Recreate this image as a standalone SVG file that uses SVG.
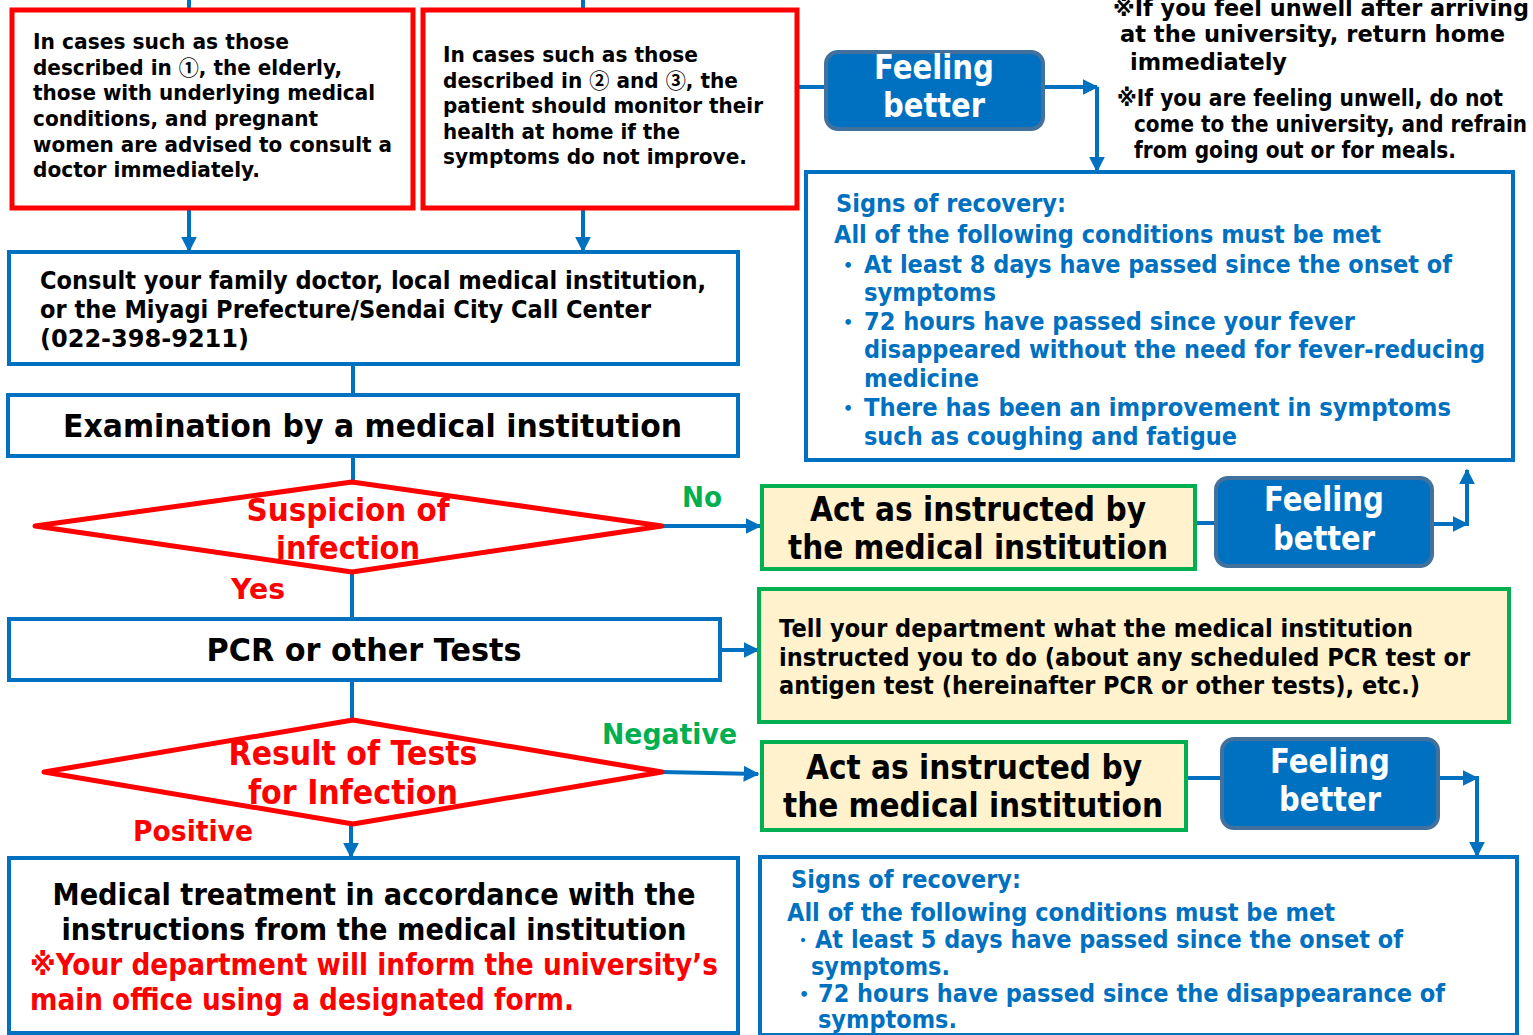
<svg xmlns="http://www.w3.org/2000/svg" width="1533" height="1035" viewBox="0 0 1533 1035">
<defs>
<marker id="ah" viewBox="0 0 10 10" refX="9" refY="5" markerWidth="4" markerHeight="4" orient="auto" markerUnits="strokeWidth">
<path d="M0,0 L10,5 L0,10 z" fill="#0070C0"/>
</marker>
<style>
text{font-family:"DejaVu Sans","Noto Sans CJK JP",sans-serif;font-weight:bold;}
.cj{font-family:"Noto Sans CJK JP",sans-serif;}
.k{fill:#000}
.r{fill:#FF0000}
.g{fill:#00B050}
.b{fill:#0070C0}
.w{fill:#FFFFFF}
.mid{text-anchor:middle}
.redbox{fill:#FFFFFF;stroke:#FF0000;stroke-width:5}
.bluebox{fill:#FFFFFF;stroke:#0070C0;stroke-width:4}
.greenbox{fill:#FFF2CC;stroke:#00B050;stroke-width:4}
.feel{fill:#0070C0;stroke:#41719C;stroke-width:4}
.dia{fill:#FFFFFF;stroke:#FF0000;stroke-width:5;stroke-linejoin:round}
.c{fill:none;stroke:#0070C0;stroke-width:4}
.ca{fill:none;stroke:#0070C0;stroke-width:4;marker-end:url(#ah)}
.f16{font-size:16px}
.f21{font-size:21px}
.f23{font-size:23px}
.f24{font-size:24px}
.f28{font-size:28px}
.f30{font-size:30px}
.f32{font-size:32px}
.f33{font-size:33px}
</style>
</defs>
<rect width="1533" height="1035" fill="#FFFFFF"/>

<g id="connectors">
<line class="c" x1="189" y1="0" x2="189" y2="10"/>
<line class="c" x1="583" y1="0" x2="583" y2="10"/>
<line class="ca" x1="189" y1="208" x2="189" y2="251"/>
<line class="ca" x1="583" y1="208" x2="583" y2="251"/>
<line class="c" x1="797" y1="87" x2="826" y2="87"/>
<line class="ca" x1="1043" y1="87" x2="1097" y2="87"/>
<polyline class="ca" points="1097,87 1097,171"/>
<line class="c" x1="353" y1="364" x2="353" y2="395"/>
<line class="c" x1="353" y1="456" x2="353" y2="484"/>
<line class="ca" x1="662" y1="526" x2="760" y2="526"/>
<line class="c" x1="352" y1="572" x2="352" y2="619"/>
<line class="c" x1="1195" y1="523" x2="1217" y2="523"/>
<line class="ca" x1="1432" y1="524" x2="1467" y2="524"/>
<line class="ca" x1="1467" y1="526" x2="1467" y2="470"/>
<line class="ca" x1="720" y1="650" x2="758" y2="650"/>
<line class="c" x1="352" y1="680" x2="352" y2="721"/>
<line class="ca" x1="662" y1="772" x2="758" y2="774"/>
<line class="ca" x1="351" y1="824" x2="351" y2="857"/>
<line class="c" x1="1186" y1="778" x2="1222" y2="778"/>
<line class="ca" x1="1438" y1="778" x2="1477" y2="778"/>
<line class="ca" x1="1477" y1="776" x2="1477" y2="856"/>
</g>

<g id="box-elderly">
<rect class="redbox" x="12" y="10" width="401" height="198"/>
<text class="k f21" x="33" y="49" textLength="256" lengthAdjust="spacingAndGlyphs">In cases such as those</text>
<text class="k f21" x="33" y="75" textLength="309" lengthAdjust="spacingAndGlyphs">described in <tspan class="cj">①</tspan>, the elderly,</text>
<text class="k f21" x="33" y="100" textLength="342" lengthAdjust="spacingAndGlyphs">those with underlying medical</text>
<text class="k f21" x="33" y="126" textLength="285" lengthAdjust="spacingAndGlyphs">conditions, and pregnant</text>
<text class="k f21" x="33" y="152" textLength="359" lengthAdjust="spacingAndGlyphs">women are advised to consult a</text>
<text class="k f21" x="33" y="177" textLength="227" lengthAdjust="spacingAndGlyphs">doctor immediately.</text>
</g>

<g id="box-monitor">
<rect class="redbox" x="423" y="10" width="374" height="198"/>
<text class="k f21" x="443" y="62" textLength="255" lengthAdjust="spacingAndGlyphs">In cases such as those</text>
<text class="k f21" x="443" y="88" textLength="295" lengthAdjust="spacingAndGlyphs">described in <tspan class="cj">②</tspan> and <tspan class="cj">③</tspan>, the</text>
<text class="k f21" x="443" y="113" textLength="320" lengthAdjust="spacingAndGlyphs">patient should monitor their</text>
<text class="k f21" x="443" y="139" textLength="237" lengthAdjust="spacingAndGlyphs">health at home if the</text>
<text class="k f21" x="443" y="164" textLength="304" lengthAdjust="spacingAndGlyphs">symptoms do not improve.</text>
</g>

<g id="feeling-top">
<rect class="feel" x="826" y="52" width="217" height="77" rx="12"/>
<text class="w f33 mid" x="934" y="79" textLength="120" lengthAdjust="spacingAndGlyphs">Feeling</text>
<text class="w f33 mid" x="934" y="117" textLength="102" lengthAdjust="spacingAndGlyphs">better</text>
</g>

<g id="notes">
<text class="k f23" x="1113" y="16" textLength="416" lengthAdjust="spacingAndGlyphs">※If you feel unwell after arriving</text>
<text class="k f23" x="1120" y="42" textLength="385" lengthAdjust="spacingAndGlyphs">at the university, return home</text>
<text class="k f23" x="1130" y="70" textLength="157" lengthAdjust="spacingAndGlyphs">immediately</text>
<text class="k f23" x="1117" y="106" textLength="386" lengthAdjust="spacingAndGlyphs">※If you are feeling unwell, do not</text>
<text class="k f23" x="1134" y="132" textLength="393" lengthAdjust="spacingAndGlyphs">come to the university, and refrain</text>
<text class="k f23" x="1134" y="158" textLength="322" lengthAdjust="spacingAndGlyphs">from going out or for meals.</text>
</g>

<g id="signs-1">
<rect class="bluebox" x="806" y="172" width="707" height="288"/>
<text class="b f24" x="836" y="212" textLength="230" lengthAdjust="spacingAndGlyphs">Signs of recovery:</text>
<text class="b f24" x="834" y="243" textLength="547" lengthAdjust="spacingAndGlyphs">All of the following conditions must be met</text>
<text class="b f16" x="843" y="271">•</text>
<text class="b f24" x="864" y="273" textLength="588" lengthAdjust="spacingAndGlyphs">At least 8 days have passed since the onset of</text>
<text class="b f24" x="864" y="301" textLength="132" lengthAdjust="spacingAndGlyphs">symptoms</text>
<text class="b f16" x="843" y="328">•</text>
<text class="b f24" x="864" y="330" textLength="491" lengthAdjust="spacingAndGlyphs">72 hours have passed since your fever</text>
<text class="b f24" x="864" y="358" textLength="621" lengthAdjust="spacingAndGlyphs">disappeared without the need for fever-reducing</text>
<text class="b f24" x="864" y="387" textLength="115" lengthAdjust="spacingAndGlyphs">medicine</text>
<text class="b f16" x="843" y="414">•</text>
<text class="b f24" x="864" y="416" textLength="587" lengthAdjust="spacingAndGlyphs">There has been an improvement in symptoms</text>
<text class="b f24" x="864" y="445" textLength="373" lengthAdjust="spacingAndGlyphs">such as coughing and fatigue</text>
</g>

<g id="consult">
<rect class="bluebox" x="9" y="252" width="729" height="112"/>
<text class="k f24" x="40" y="289" textLength="666" lengthAdjust="spacingAndGlyphs">Consult your family doctor, local medical institution,</text>
<text class="k f24" x="40" y="318" textLength="611" lengthAdjust="spacingAndGlyphs">or the Miyagi Prefecture/Sendai City Call Center</text>
<text class="k f24" x="40" y="347" textLength="209" lengthAdjust="spacingAndGlyphs">(022-398-9211)</text>
</g>

<g id="examination">
<rect class="bluebox" x="8" y="395" width="730" height="61"/>
<text class="k f32" x="63" y="437" textLength="619" lengthAdjust="spacingAndGlyphs">Examination by a medical institution</text>
</g>

<g id="suspicion">
<polygon class="dia" points="35,526 352,482 662,526 352,572"/>
<text class="r f32 mid" x="348" y="521" textLength="203" lengthAdjust="spacingAndGlyphs">Suspicion of</text>
<text class="r f32 mid" x="348" y="559" textLength="144" lengthAdjust="spacingAndGlyphs">infection</text>
</g>
<text class="g f28" x="682" y="507" textLength="40" lengthAdjust="spacingAndGlyphs">No</text>
<text class="r f28" x="231" y="599" textLength="54" lengthAdjust="spacingAndGlyphs">Yes</text>

<g id="act-1">
<rect class="greenbox" x="762" y="486" width="433" height="83"/>
<text class="k f33 mid" x="978" y="521" textLength="336" lengthAdjust="spacingAndGlyphs">Act as instructed by</text>
<text class="k f33 mid" x="978" y="559" textLength="380" lengthAdjust="spacingAndGlyphs">the medical institution</text>
</g>

<g id="feeling-mid">
<rect class="feel" x="1216" y="478" width="216" height="88" rx="12"/>
<text class="w f33 mid" x="1324" y="511" textLength="120" lengthAdjust="spacingAndGlyphs">Feeling</text>
<text class="w f33 mid" x="1324" y="550" textLength="102" lengthAdjust="spacingAndGlyphs">better</text>
</g>

<g id="pcr">
<rect class="bluebox" x="9" y="619" width="711" height="61"/>
<text class="k f32 mid" x="364" y="661" textLength="315" lengthAdjust="spacingAndGlyphs">PCR or other Tests</text>
</g>

<g id="tell">
<rect class="greenbox" x="759" y="589" width="750" height="133"/>
<text class="k f24" x="779" y="637" textLength="634" lengthAdjust="spacingAndGlyphs">Tell your department what the medical institution</text>
<text class="k f24" x="779" y="666" textLength="691" lengthAdjust="spacingAndGlyphs">instructed you to do (about any scheduled PCR test or</text>
<text class="k f24" x="779" y="694" textLength="641" lengthAdjust="spacingAndGlyphs">antigen test (hereinafter PCR or other tests), etc.)</text>
</g>

<g id="result">
<polygon class="dia" points="44,772 353,720 662,772 353,824"/>
<text class="r f33 mid" x="353" y="765" textLength="249" lengthAdjust="spacingAndGlyphs">Result of Tests</text>
<text class="r f33 mid" x="353" y="804" textLength="210" lengthAdjust="spacingAndGlyphs">for Infection</text>
</g>
<text class="g f28" x="602" y="744" textLength="135" lengthAdjust="spacingAndGlyphs">Negative</text>
<text class="r f28" x="133" y="841" textLength="120" lengthAdjust="spacingAndGlyphs">Positive</text>

<g id="act-2">
<rect class="greenbox" x="762" y="742" width="424" height="88"/>
<text class="k f33 mid" x="974" y="779" textLength="336" lengthAdjust="spacingAndGlyphs">Act as instructed by</text>
<text class="k f33 mid" x="973" y="817" textLength="380" lengthAdjust="spacingAndGlyphs">the medical institution</text>
</g>

<g id="feeling-bottom">
<rect class="feel" x="1222" y="739" width="216" height="89" rx="12"/>
<text class="w f33 mid" x="1330" y="773" textLength="120" lengthAdjust="spacingAndGlyphs">Feeling</text>
<text class="w f33 mid" x="1330" y="811" textLength="102" lengthAdjust="spacingAndGlyphs">better</text>
</g>

<g id="signs-2">
<rect class="bluebox" x="760" y="857" width="757" height="178"/>
<text class="b f24" x="791" y="888" textLength="230" lengthAdjust="spacingAndGlyphs">Signs of recovery:</text>
<text class="b f24" x="787" y="921" textLength="548" lengthAdjust="spacingAndGlyphs">All of the following conditions must be met</text>
<text class="b f16" x="795" y="946">・</text>
<text class="b f24" x="815" y="948" textLength="588" lengthAdjust="spacingAndGlyphs">At least 5 days have passed since the onset of</text>
<text class="b f24" x="811" y="975" textLength="139" lengthAdjust="spacingAndGlyphs">symptoms.</text>
<text class="b f16" x="799" y="1000">•</text>
<text class="b f24" x="818" y="1002" textLength="627" lengthAdjust="spacingAndGlyphs">72 hours have passed since the disappearance of</text>
<text class="b f24" x="818" y="1028" textLength="139" lengthAdjust="spacingAndGlyphs">symptoms.</text>
</g>

<g id="treatment">
<rect class="bluebox" x="9" y="858" width="729" height="175"/>
<text class="k f30 mid" x="374" y="905" textLength="643" lengthAdjust="spacingAndGlyphs">Medical treatment in accordance with the</text>
<text class="k f30 mid" x="374" y="940" textLength="625" lengthAdjust="spacingAndGlyphs">instructions from the medical institution</text>
<text class="r f30" x="30" y="975" textLength="688" lengthAdjust="spacingAndGlyphs">※Your department will inform the university’s</text>
<text class="r f30" x="30" y="1010" textLength="544" lengthAdjust="spacingAndGlyphs">main office using a designated form.</text>
</g>
</svg>
